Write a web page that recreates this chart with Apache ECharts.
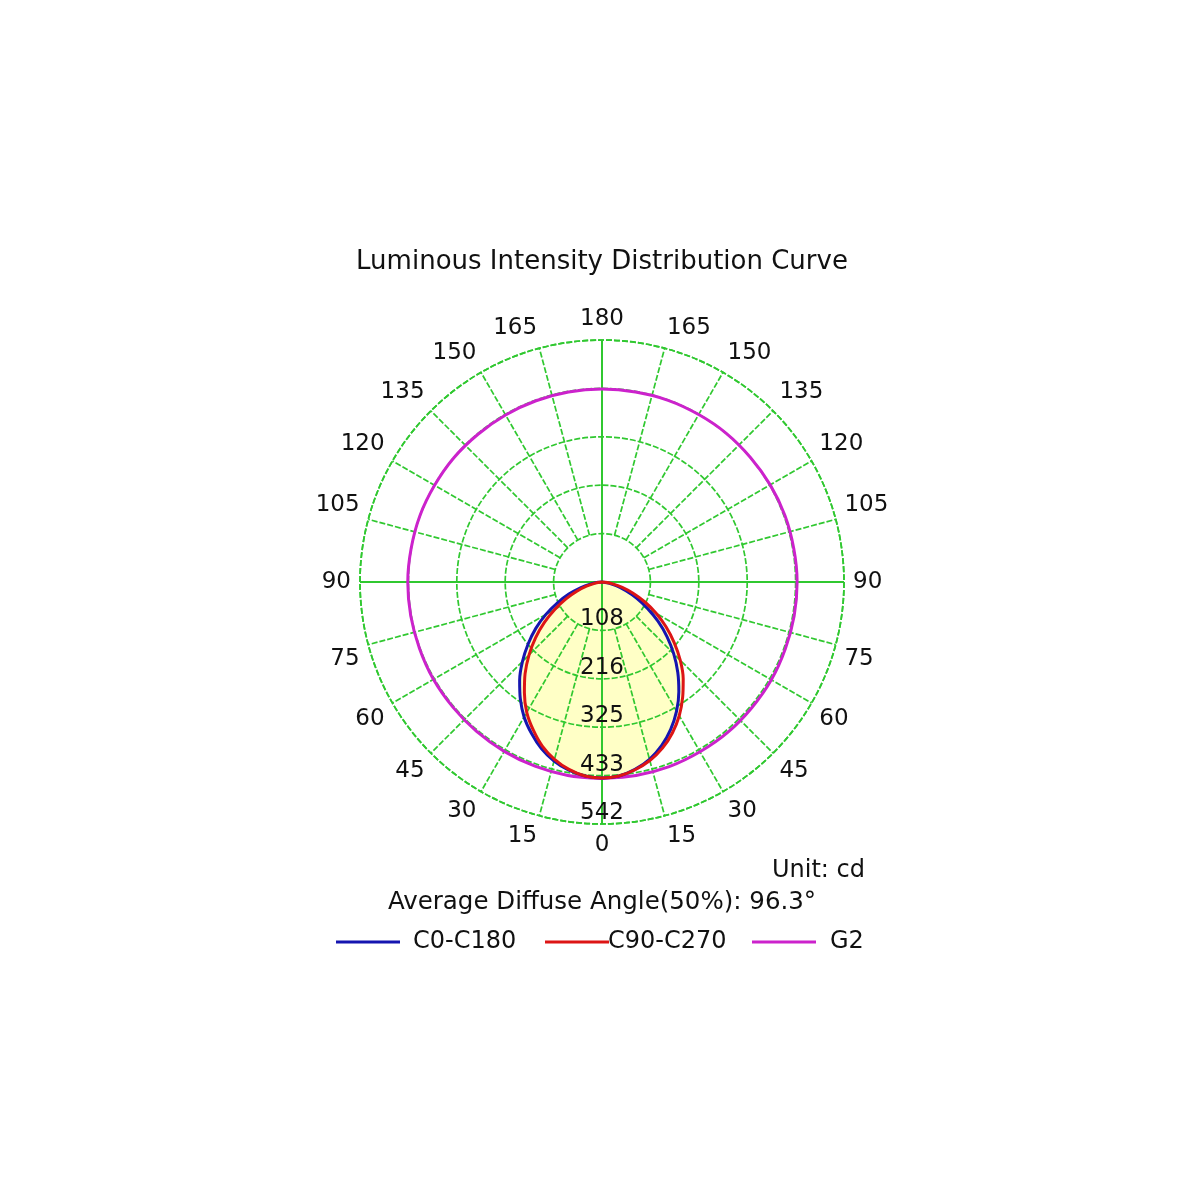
<!DOCTYPE html>
<html>
<head>
<meta charset="utf-8">
<script src="https://cdn.jsdelivr.net/npm/echarts@6/dist/echarts.min.js"></script>
<style>html,body{margin:0;padding:0;background:#fff}#c{width:1200px;height:1200px}</style>
</head>
<body>
<div id="c"></div>
<script>
// gamma angles (degrees from nadir) for the lobe curves
const gamma = [0,5,10,15,20,25,30,35,40,45,50,55,60,65,70,75,80,85,90];
// C0-C180 (blue): right half (C0) and left half (C180), cd
const c0   = [439,436,426,411,390,364,334,300,264,227,190,153,117,86,57,34,15,4,0];
const c180 = [439,436,428,415,397,374,349,319,287,252,216,181,145,110,79,50,27,9,0];
// C90-C270 (red): right half (C90) and left half (C270), cd
const c90  = [439,436,427,414,396,373,346,315,283,248,211,175,140,106,74,47,24,8,0];
const c270 = [439,436,426,411,391,365,337,303,268,231,194,157,121,89,60,36,17,5,0];
// G2 curve, full circle
const g2Angles = [0,10,20,30,40,50,60,70,80,90,100,110,120,130,140,150,160,170,180,190,200,210,220,230,240,250,260,270,280,290,300,310,320,330,340,350,360];
const g2 = [440,440,439,438,437,436,436,435,435,435,434,434,433,433,432,432,432,432,432,432,433,433,434,434,435,436,436,437,437,437,438,438,439,439,440,440,440];
// radial rings and their labels
const ringValues = [108.4,216.8,325.2,433.6,542];
const ringLabels = ['108','216','325','433','542'];
const rMax = 542;
// angle tick labels (axis value -> printed text)
const angleTicks = [0,15,30,45,60,75,90,105,120,135,150,165,180,195,210,225,240,255,270,285,300,315,330,345];
const angleTexts = ['0','15','30','45','60','75','90','105','120','135','150','165','180','165','150','135','120','105','90','75','60','45','30','15'];
// spokes: angle values; main axes drawn from centre
const spokeAngles = [15,30,45,60,75,105,120,135,150,165,195,210,225,240,255,285,300,315,330,345];
const mainAngles = [0,90,180,270];

const FONT = 'DejaVu Sans';
const GREEN = '#30c830';
const START = 270;
const LABEL_MARGIN = 9;

function lobe(right, left) {
  const d = [];
  for (let i = gamma.length - 1; i >= 1; i--) d.push([right[i], 360 - gamma[i]]);
  for (let i = 0; i < gamma.length; i++) d.push([left[i], gamma[i]]);
  return d;
}
const blueData = lobe(c0, c180);
const redData = lobe(c90, c270);
const g2Data = g2.map((v, i) => [v, g2Angles[i]]);
const spokeData = spokeAngles.map(a => [ringValues[0], a, 0]).concat(mainAngles.map(a => [0, a, 1]));

// angle labels: placed just outside the outer ring, aligned by the corner facing the centre
const angleLabelData = angleTicks.map((a, i) => {
  const t = (START - a) * Math.PI / 180;
  const dx = Math.cos(t), dy = -Math.sin(t);
  const align = dx > 0.01 ? 'left' : (dx < -0.01 ? 'right' : 'center');
  const valign = dy > 0.01 ? 'top' : (dy < -0.01 ? 'bottom' : 'middle');
  return {
    value: [rMax, a],
    label: {position: [dx * LABEL_MARGIN, dy * LABEL_MARGIN], align: align, verticalAlign: valign,
            formatter: angleTexts[i]}
  };
});

const chart = echarts.init(document.getElementById('c'), null, {renderer: 'canvas'});
chart.setOption({
  backgroundColor: '#fff',
  animation: false,
  textStyle: {fontFamily: FONT},
  title: [
    {text: 'Luminous Intensity Distribution Curve', left: 602, textAlign: 'center', top: 249, padding: 0,
     textStyle: {fontFamily: FONT, fontSize: 26, fontWeight: 'normal', color: '#111'}},
    {text: 'Unit: cd', right: 335, top: 859, padding: 0,
     textStyle: {fontFamily: FONT, fontSize: 24, fontWeight: 'normal', color: '#111'}},
    {text: 'Average Diffuse Angle(50%): 96.3°', left: 602, textAlign: 'center', top: 890, padding: 0,
     textStyle: {fontFamily: FONT, fontSize: 24.5, fontWeight: 'normal', color: '#111'}}
  ],
  legend: [
    {data: ['C0-C180'], left: 336, top: 930, padding: 0, icon: 'rect', itemWidth: 64, itemHeight: 3,
     textStyle: {fontFamily: FONT, fontSize: 24, color: '#111', padding: [0,0,0,8]}},
    {data: ['C90-C270'], left: 545, top: 930, padding: 0, icon: 'rect', itemWidth: 64, itemHeight: 3,
     textStyle: {fontFamily: FONT, fontSize: 24, color: '#111', padding: [0,0,0,-6]}},
    {data: ['G2'], left: 752, top: 930, padding: 0, icon: 'rect', itemWidth: 64, itemHeight: 3,
     textStyle: {fontFamily: FONT, fontSize: 24, color: '#111', padding: [0,0,0,9]}}
  ],
  polar: {center: [602, 582], radius: 242},
  angleAxis: {
    type: 'value', min: 0, max: 360, interval: 15, startAngle: START, clockwise: true, z: 3,
    axisLine: {show: true, lineStyle: {color: GREEN, width: 1.7, type: [6, 2]}},
    axisTick: {show: false},
    splitLine: {show: false},
    axisLabel: {show: false}
  },
  radiusAxis: {
    type: 'value', min: 0, max: rMax, interval: 108.4, z: 3,
    axisLine: {show: false}, axisTick: {show: false}, axisLabel: {show: false},
    splitLine: {show: true, lineStyle: {color: GREEN, width: 1.7, type: [6, 2]}}
  },
  series: [
    {type: 'line', coordinateSystem: 'polar', data: redData, symbol: 'none', z: 1, silent: true, smooth: 0.3,
     lineStyle: {width: 0}, areaStyle: {color: '#ffffc6', opacity: 1}},
    {type: 'line', coordinateSystem: 'polar', data: blueData, symbol: 'none', z: 1, silent: true, smooth: 0.3,
     lineStyle: {width: 0}, areaStyle: {color: '#ffffc6', opacity: 1}},
    {type: 'custom', coordinateSystem: 'polar', data: spokeData, z: 3, silent: true,
     renderItem: function (params, api) {
       const r0 = api.value(0), a = api.value(1), main = api.value(2);
       const p1 = api.coord([r0, a]);
       const p2 = api.coord([rMax, a]);
       return {type: 'line', shape: {x1: p1[0], y1: p1[1], x2: p2[0], y2: p2[1]},
         style: {stroke: GREEN, lineWidth: main ? 2 : 1.7, lineDash: main ? null : [6, 2]}};
     }},
    {name: 'G2', type: 'line', coordinateSystem: 'polar', data: g2Data, symbol: 'none', z: 5,
     smooth: 0.3, lineStyle: {color: '#cc22cc', width: 3}, itemStyle: {color: '#cc22cc'}},
    {name: 'C0-C180', type: 'line', coordinateSystem: 'polar', data: blueData, symbol: 'none', z: 6,
     smooth: 0.3, lineStyle: {color: '#1515b0', width: 3}, itemStyle: {color: '#1515b0'}},
    {name: 'C90-C270', type: 'line', coordinateSystem: 'polar', data: redData, symbol: 'none', z: 7,
     smooth: 0.3, lineStyle: {color: '#dd1515', width: 3}, itemStyle: {color: '#dd1515'}},
    {type: 'scatter', coordinateSystem: 'polar', data: ringValues.map(v => [v, 0]), symbolSize: 0, z: 8, silent: true,
     itemStyle: {opacity: 1},
     label: {show: true, position: 'top', distance: 0, lineHeight: 22, fontFamily: FONT, fontSize: 23, color: '#111',
       formatter: p => ringLabels[p.dataIndex]}},
    {type: 'scatter', coordinateSystem: 'polar', data: angleLabelData, symbolSize: 0, z: 8, silent: true,
     itemStyle: {opacity: 1},
     label: {show: true, lineHeight: 24, fontFamily: FONT, fontSize: 23, color: '#111'}}
  ]
});
</script>
</body>
</html>
